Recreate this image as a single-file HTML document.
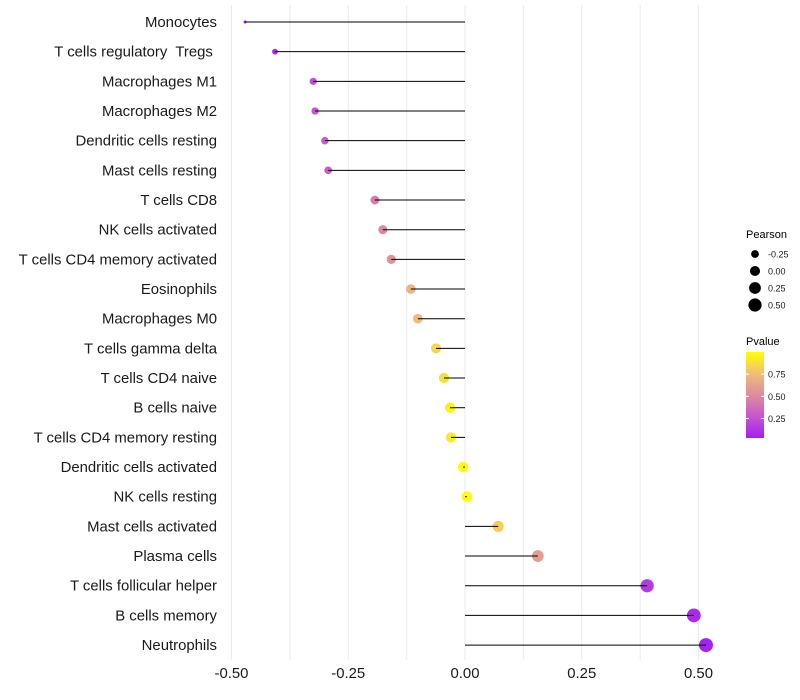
<!DOCTYPE html>
<html><head><meta charset="utf-8"><style>
body{margin:0;background:#fff;font-family:"Liberation Sans",sans-serif}
text{white-space:pre}
</style></head><body>
<svg id="chart" width="800" height="700" style="display:block" xml:space="preserve">
<g id="grid"></g>
<g id="dots"></g>
<g id="stems"></g>
<g id="ylabels"></g>
<g id="xticks"></g>
<g id="legend"></g>
</svg>
<script>
const cells=["Monocytes","T cells regulatory  Tregs ","Macrophages M1","Macrophages M2","Dendritic cells resting","Mast cells resting","T cells CD8","NK cells activated","T cells CD4 memory activated","Eosinophils","Macrophages M0","T cells gamma delta","T cells CD4 naive","B cells naive","T cells CD4 memory resting","Dendritic cells activated","NK cells resting","Mast cells activated","Plasma cells","T cells follicular helper","B cells memory","Neutrophils"];
const pearson=[-0.471,-0.407,-0.325,-0.321,-0.300,-0.293,-0.193,-0.176,-0.158,-0.116,-0.101,-0.062,-0.045,-0.032,-0.030,-0.004,0.004,0.071,0.156,0.390,0.490,0.516];
const pvalue=[0.03,0.10,0.25,0.27,0.30,0.30,0.45,0.50,0.55,0.72,0.75,0.85,0.88,0.95,0.92,0.99,1.0,0.82,0.60,0.15,0.08,0.05];
const xTicks=[-0.5,-0.25,0,0.25,0.5];
const xTickLabels=["-0.50","-0.25","0.00","0.25","0.50"];
const sizeLegend=[-0.25,0,0.25,0.5];
const colorLegend=[0.25,0.5,0.75];

const NS="http://www.w3.org/2000/svg";
function mk(t,a,p){const e=document.createElementNS(NS,t);for(const k in a)e.setAttribute(k,a[k]);p.appendChild(e);return e;}
const x=v=>465+v*467;
const y=i=>22+i*29.67;
const pmin=Math.min(...pearson);
const r=v=>1.5+5.5*Math.sqrt(Math.max(0,v-pmin)/0.987);
const stops=[[0.03,[160,32,240]],[0.25,[196,80,212]],[0.5,[217,138,160]],[0.75,[239,188,124]],[1.0,[255,255,0]]];
function col(p){for(let i=1;i<stops.length;i++){if(p<=stops[i][0]||i==stops.length-1){const a=stops[i-1],b=stops[i];let t=(p-a[0])/(b[0]-a[0]);t=Math.max(0,Math.min(1,t));const c=a[1].map((v,k)=>Math.round(v+(b[1][k]-v)*t));return`rgb(${c})`;}}}
const grid=document.getElementById('grid');
for(let v=-0.5;v<=0.5001;v+=0.125){const l=mk('line',{x1:x(v),x2:x(v),y1:5,y2:660,stroke:'#ebebeb','stroke-width':1},grid);

}
const dots=document.getElementById('dots'),stems=document.getElementById('stems'),yl=document.getElementById('ylabels');
cells.forEach((c,i)=>{
 const d=mk('circle',{cx:x(pearson[i]),cy:y(i),r:r(pearson[i]),fill:col(pvalue[i])},dots);
 
 
 const s=mk('line',{x1:x(0),x2:x(pearson[i]),y1:y(i),y2:y(i),stroke:'#000','stroke-width':1},stems);
 
 
 const t=mk('text',{x:217,y:y(i)+5,'text-anchor':'end','font-size':14.9,fill:'#1a1a1a'},yl);t.textContent=c;
 
 
});
const xt=document.getElementById('xticks');
xTicks.forEach((v,i)=>{const t=mk('text',{x:x(v),y:678,'text-anchor':'middle','font-size':14.9,fill:'#1a1a1a'},xt);t.textContent=xTickLabels[i];

});
const lg=document.getElementById('legend');
let t=mk('text',{x:746,y:238,'font-size':11,fill:'#000'},lg);t.textContent='Pearson';
sizeLegend.forEach((v,i)=>{const cy=254+i*17;
 const c=mk('circle',{cx:755,cy:cy,r:r(v)*0.95,fill:'#000'},lg);
 
 
 const tt=mk('text',{x:768,y:cy+3.5,'font-size':9,fill:'#1a1a1a'},lg);tt.textContent=v===0?'0.00':v.toFixed(2);});
t=mk('text',{x:746,y:345,'font-size':11,fill:'#000'},lg);t.textContent='Pvalue';
const defs=mk('defs',{},lg);const gr=mk('linearGradient',{id:'pg',x1:0,y1:1,x2:0,y2:0},defs);
stops.forEach(s=>mk('stop',{offset:(s[0]-0.03)/0.97,'stop-color':`rgb(${s[1]})`},gr));
const bar=mk('rect',{x:746,y:352,width:18,height:86,fill:'url(#pg)'},lg);


const py=p=>438-(p-0.03)/0.97*86;
colorLegend.forEach(v=>{mk('line',{x1:746,x2:749,y1:py(v),y2:py(v),stroke:'#fff'},lg);mk('line',{x1:761,x2:764,y1:py(v),y2:py(v),stroke:'#fff'},lg);
 const tt=mk('text',{x:768,y:py(v)+3.5,'font-size':9,fill:'#1a1a1a'},lg);tt.textContent=v.toFixed(2);});
</script>
</body></html>
